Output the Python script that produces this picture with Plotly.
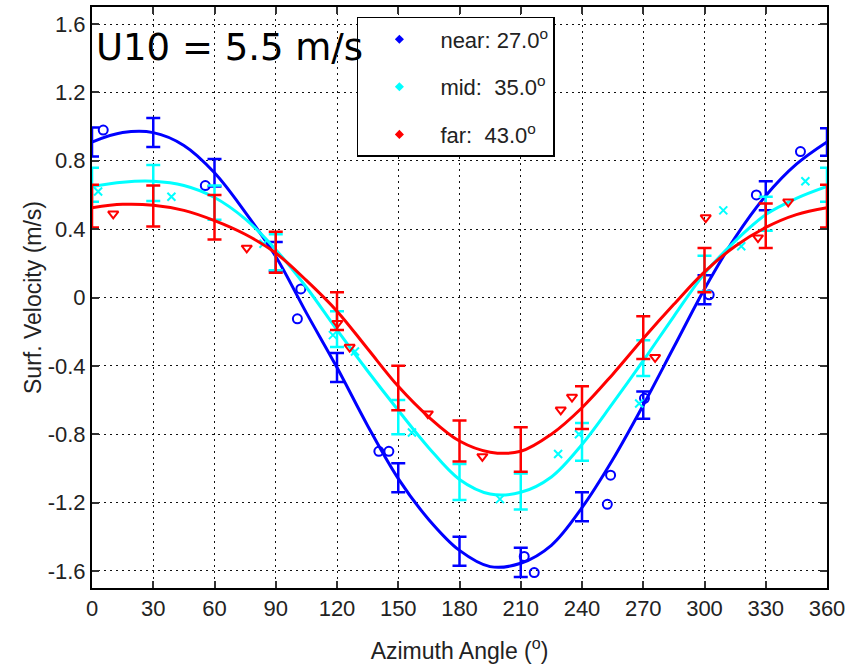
import plotly.graph_objects as go

# ---- data ----
bar_angles = [0, 30, 60, 90, 120, 150, 180, 210, 240, 270, 300, 330, 360]

near_mean = [0.91, 0.965, 0.73, 0.24, -0.41, -1.055, -1.485, -1.55, -1.225, -0.63, 0.045, 0.595, 0.91]
near_err = [0.085, 0.085, 0.08, 0.085, 0.085, 0.085, 0.085, 0.085, 0.085, 0.08, 0.085, 0.085, 0.08]
mid_mean = [0.66, 0.67, 0.555, 0.265, -0.185, -0.70, -1.08, -1.135, -0.845, -0.355, 0.14, 0.49, 0.66]
mid_err = [0.10, 0.105, 0.10, 0.105, 0.105, 0.10, 0.105, 0.105, 0.11, 0.105, 0.105, 0.10, 0.10]
far_mean = [0.535, 0.535, 0.47, 0.265, -0.08, -0.53, -0.84, -0.89, -0.645, -0.235, 0.16, 0.42, 0.535]
far_err = [0.125, 0.12, 0.13, 0.12, 0.11, 0.13, 0.12, 0.13, 0.125, 0.125, 0.13, 0.13, 0.125]

fit_angles = [0, 15, 30, 45, 60, 75, 90, 105, 120, 135, 150, 165, 180,
              195, 210, 225, 240, 255, 270, 285, 300, 315, 330, 345, 360]
near_fit = [0.91, 0.965, 0.965, 0.89, 0.73, 0.50, 0.24, -0.09, -0.41, -0.75, -1.06, -1.30, -1.48,
            -1.575, -1.555, -1.45, -1.23, -0.95, -0.63, -0.29, 0.05, 0.35, 0.595, 0.78, 0.91]
mid_fit = [0.65, 0.675, 0.68, 0.655, 0.585, 0.46, 0.28, 0.06, -0.19, -0.43, -0.66, -0.88, -1.065,
           -1.15, -1.14, -1.05, -0.86, -0.62, -0.37, -0.11, 0.14, 0.33, 0.485, 0.58, 0.65]
far_fit = [0.525, 0.545, 0.54, 0.51, 0.45, 0.37, 0.26, 0.10, -0.08, -0.30, -0.52, -0.70, -0.84,
           -0.905, -0.90, -0.80, -0.645, -0.45, -0.24, -0.04, 0.15, 0.30, 0.41, 0.485, 0.525]

near_pts_x = [5.5, 55.5, 100.6, 102.3, 140.5, 145.4, 211.7, 216.6, 252.4, 254, 270.6, 302.3, 325.4, 347]
near_pts_y = [0.98, 0.655, -0.125, 0.05, -0.90, -0.90, -1.515, -1.61, -1.21, -1.04, -0.59, 0.016, 0.60, 0.854]
mid_pts_x = [3, 38.9, 84, 118, 128.8, 156.7, 199.8, 228.3, 238.5, 268, 309.2, 318, 349.4]
mid_pts_y = [0.62, 0.59, 0.315, -0.22, -0.316, -0.79, -1.18, -0.916, -0.80, -0.62, 0.51, 0.30, 0.68]
far_pts_x = [10.4, 75.8, 120.2, 126.2, 164.5, 191.2, 229.6, 235.1, 275.8, 300.6, 326.2, 341]
far_pts_y = [0.49, 0.29, -0.15, -0.29, -0.68, -0.93, -0.657, -0.583, -0.35, 0.468, 0.35, 0.56]

legend_names = ["near: 27.0<sup>o</sup>", "mid:  35.0<sup>o</sup>", "far:  43.0<sup>o</sup>"]
x_ticks = [0, 30, 60, 90, 120, 150, 180, 210, 240, 270, 300, 330, 360]
x_ticktext = ["0", "30", "60", "90", "120", "150", "180", "210", "240", "270", "300", "330", "360"]
y_ticks = [-1.6, -1.2, -0.8, -0.4, 0, 0.4, 0.8, 1.2, 1.6]
y_ticktext = ["-1.6", "-1.2", "-0.8", "-0.4", "0", "0.4", "0.8", "1.2", "1.6"]

series = [
    ("#0000FF", near_fit, near_mean, near_err, near_pts_x, near_pts_y, "circle-open", 9),
    ("#00FFFF", mid_fit, mid_mean, mid_err, mid_pts_x, mid_pts_y, "x-thin-open", 8),
    ("#FF0000", far_fit, far_mean, far_err, far_pts_x, far_pts_y, "triangle-down-open", 9),
]

FONT = "Liberation Sans, Arial"

fig = go.Figure()
for i, (col, fit, mean, err, px, py, sym, sz) in enumerate(series):
    fig.add_trace(go.Scatter(x=fit_angles, y=fit, mode="lines",
                             line=dict(color=col, width=3, shape="spline", smoothing=1.0),
                             showlegend=False, hoverinfo="skip"))
    fig.add_trace(go.Scatter(x=bar_angles, y=mean, mode="markers",
                             marker=dict(size=1, color=col, opacity=0),
                             error_y=dict(type="data", array=err, color=col, thickness=2.5, width=7),
                             showlegend=False))
    fig.add_trace(go.Scatter(x=px, y=py, mode="markers",
                             marker=dict(symbol=sym, size=sz, color=col, line=dict(color=col, width=2)),
                             showlegend=False))
    fig.add_trace(go.Scatter(x=[None], y=[None], mode="markers", name=legend_names[i],
                             marker=dict(symbol="diamond", size=7, color=col),
                             legendgroup="g%d" % i))

axis_common = dict(showline=True, linecolor="black", linewidth=2, mirror="ticks",
                   ticks="inside", ticklen=7, tickwidth=1.5, tickcolor="#333",
                   showgrid=True, gridcolor="#111", gridwidth=1.3, griddash="1.5px,4.5px",
                   zeroline=False, tickfont=dict(family=FONT, size=22, color="#222"))

fig.update_xaxes(range=[0, 360], tickvals=x_ticks, ticktext=x_ticktext,
                 title=dict(text="Azimuth Angle (<sup>o</sup>)", standoff=22,
                            font=dict(family=FONT, size=23, color="#222")),
                 **axis_common)
fig.update_yaxes(range=[-1.7, 1.7], tickvals=y_ticks, ticktext=y_ticktext,
                 title=dict(text="Surf. Velocity (m/s)", standoff=0,
                            font=dict(family=FONT, size=23, color="#222")),
                 **axis_common)

fig.add_annotation(text="U10 = 5.5 m/s", xref="paper", yref="paper", x=0.003, y=0.93,
                   xanchor="left", yanchor="middle", showarrow=False,
                   font=dict(family="DejaVu Sans", size=37, color="black"))

fig.update_layout(
    width=850, height=665,
    margin=dict(l=92, r=20, t=5, b=77),
    paper_bgcolor="white", plot_bgcolor="white",
    legend=dict(x=0.3604, y=0.983, xanchor="left", yanchor="top",
                bordercolor="black", borderwidth=1.5, bgcolor="white",
                font=dict(family=FONT, size=22, color="#222"),
                tracegroupgap=16, itemwidth=72),
    showlegend=True,
)

fig.write_html("out.html")
